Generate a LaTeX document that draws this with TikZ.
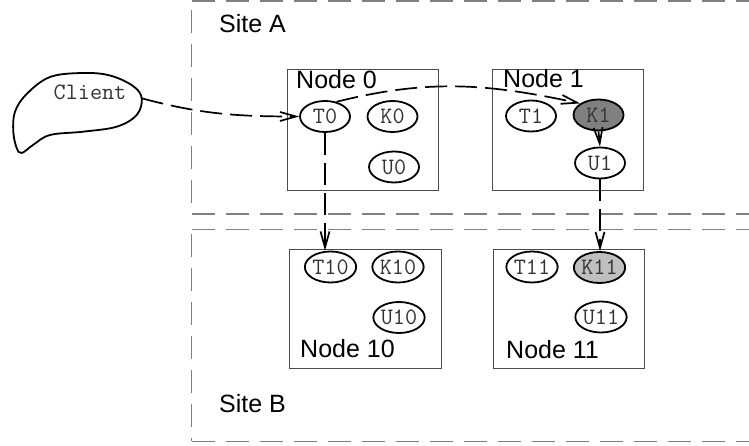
\documentclass[tikz,border=0pt]{standalone}
\usepackage{fontspec}
\setmainfont{Liberation Sans}
\usetikzlibrary{arrows.meta,shapes.geometric,calc}

\begin{document}
\begin{tikzpicture}[x=1pt,y=1pt,
  sitebound/.style={draw=black!50, line width=1.5pt, dash pattern=on 23pt off 11pt},
  nodebox/.style={draw=black!70, line width=0.8pt, inner sep=0pt},
  codefont/.style={font=\ttfamily\fontsize{23.5}{24}\selectfont, text=black!80},
  proc/.style={ellipse, draw=black, line width=1.8pt, inner sep=0pt,
    minimum width=50pt, minimum height=31pt, codefont},
  boxlabel/.style={anchor=base west, inner sep=0pt, font=\fontsize{25}{30}\selectfont},
  tip/.style={-{Straight Barb[length=16pt,width=9pt]}},
  msg/.style={draw=black, line width=1.7pt, dash pattern=on 22pt off 8pt, tip},
]
\useasboundingbox (0,0) rectangle (749,446);

% site boundaries
\draw[sitebound] (191.5,445) -- (749,445);
\draw[sitebound] (191.5,436) -- (191.5,232);
\draw[sitebound] (191.5,232) -- (749,232);
\draw[sitebound] (191.5,216.5) -- (749,216.5);
\draw[sitebound] (191.5,212) -- (191.5,4.5);
\draw[sitebound] (191.5,4.5) -- (749,4.5);
\node[boxlabel] (siteA) at (219,413) {Site A};
\node[boxlabel] (siteB) at (219,33) {Site B};

% machine boxes
\node[nodebox, minimum width=151pt, minimum height=121pt] (n0) at (362.5,316.5) {};
\node[nodebox, minimum width=151pt, minimum height=121pt] (n1) at (567.5,316.5) {};
\node[nodebox, minimum width=152pt, minimum height=119pt] (n10) at (365,137.5) {};
\node[nodebox, minimum width=151pt, minimum height=119pt] (n11) at (568.5,137.5) {};
\node[boxlabel] (l0) at (296,357) {Node 0};
\node[boxlabel] (l1) at (503,358) {Node 1};
\node[boxlabel] (l10) at (300,88) {Node 10};
\node[boxlabel] (l11) at (506,87) {Node 11};

% processes
\node[proc] (T0) at (325,329.5) {T0};
\node[proc] (K0) at (392.5,329.5) {K0};
\node[proc] (U0) at (394,279) {U0};
\node[proc] (T1) at (531,330) {T1};
\node[proc, fill=black!50] (K1) at (598.5,331) {K1};
\node[proc] (U1) at (600,283) {U1};
\node[proc] (T10) at (330.5,179) {T10};
\node[proc] (K10) at (398,179) {K10};
\node[proc] (U10) at (399,128.5) {U10};
\node[proc] (T11) at (532,179) {T11};
\node[proc, fill=black!25] (K11) at (599.5,178.5) {K11};
\node[proc] (U11) at (601,129) {U11};

% client cloud
\draw[line width=1.8pt] plot[smooth cycle, tension=0.6] coordinates {
  (141.7,347.7) (133,360) (110,370.5) (83,373) (50,369) (26.7,352)
  (15,334.3) (13.3,314.3) (16.7,298) (21.7,293) (33,301) (50,311)
  (83,314.3) (116.7,319.3) (136.7,331)};
\coordinate (cltip) at (141.7,347.7);
\node[inner sep=0pt, codefont] (client) at (90,354) {Client};

% messages
\draw[msg] (cltip) to[out=-15,in=180] (T0.west);
\draw[msg] (T0.52) to[out=14,in=168] (K1.north west);
\draw[line width=1.7pt, tip] (K1.south) -- (U1.north);
\draw[msg] (T0.south) -- (T0.south |- T10.north);
\draw[msg] (U1.south) -- (U1.south |- K11.north);
\end{tikzpicture}
\end{document}
